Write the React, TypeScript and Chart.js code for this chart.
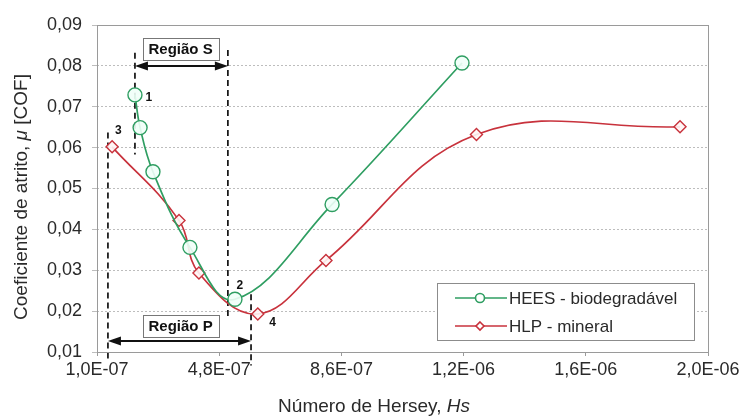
import React, { useEffect, useRef } from "react";
import { Chart, registerables } from "chart.js";

Chart.register(...registerables);

// ---- data ----
const heesX = [2.18e-7, 2.34e-7, 2.74e-7, 3.89e-7, 5.29e-7, 8.31e-7, 1.235e-6];
const heesY = [0.0729, 0.0649, 0.0541, 0.0356, 0.0229, 0.0461, 0.0807];
const hlpX = [1.47e-7, 3.55e-7, 4.17e-7, 6.0e-7, 8.12e-7, 1.28e-6, 1.913e-6];
const hlpY = [0.0602, 0.0422, 0.0293, 0.0193, 0.0324, 0.0632, 0.0651];

const seriesNames = ["HEES - biodegradável", "HLP - mineral"];
const xMin = 1.0e-7;
const xMax = 2.0e-6;
const xStep = 3.8e-7;
const yMin = 0.01;
const yMax = 0.09;
const yStep = 0.01;

// region annotations (data units)
const regionLabels = ["Região S", "Região P"];
const regionSLines = [
  { x: 2.18e-7, y1: 0.0832, y2: 0.0583 },
  { x: 5.07e-7, y1: 0.0839, y2: 0.0185 },
];
const regionSArrow = { x1: 2.18e-7, x2: 5.07e-7, y: 0.08 };
const regionSLabelPos = { x: 3.6e-7, y: 0.0842 };
const regionPLines = [
  { x: 1.34e-7, y1: 0.0637, y2: 0.0083 },
  { x: 5.79e-7, y1: 0.0241, y2: 0.0067 },
];
const regionPArrow = { x1: 1.34e-7, x2: 5.79e-7, y: 0.0127 };
const regionPLabelPos = { x: 3.6e-7, y: 0.0163 };
const pointTags = ["1", "2", "3", "4"];
const pointTagPos = [
  { x: 2.61e-7, y: 0.0722 },
  { x: 5.44e-7, y: 0.0262 },
  { x: 1.66e-7, y: 0.0641 },
  { x: 6.46e-7, y: 0.0172 },
];

const GREEN = "#2f9e62";
const RED = "#c8323c";
const FONT = "'Liberation Sans', Arial, sans-serif";
const TEXT = "#2a2a2a";

const fmtX = (v: number) => {
  const s = Number(v).toExponential(1).replace(".", ",");
  return s.replace(/e([+-])(\d+)$/, (_m, sg, d) => "E" + sg + (d.length < 2 ? "0" + d : d));
};
const fmtY = (v: number) => Number(v).toFixed(2).replace(".", ",");

const annotPlugin = {
  id: "annot",
  beforeDatasetsDraw(chart: any) {
    const ctx = chart.ctx;
    const xs = chart.scales.x;
    const ys = chart.scales.y;
    ctx.save();
    ctx.strokeStyle = "#111";
    ctx.lineWidth = 1.7;
    ctx.setLineDash([6, 4]);
    [...regionSLines, ...regionPLines].forEach((l) => {
      const x = xs.getPixelForValue(l.x);
      ctx.beginPath();
      ctx.moveTo(x, ys.getPixelForValue(l.y1));
      ctx.lineTo(x, ys.getPixelForValue(l.y2));
      ctx.stroke();
    });
    ctx.restore();
  },
  afterDraw(chart: any) {
    const ctx = chart.ctx;
    const xs = chart.scales.x;
    const ys = chart.scales.y;
    const ca = chart.chartArea;
    ctx.save();
    // frame
    ctx.strokeStyle = "#9a9a9a";
    ctx.lineWidth = 1;
    ctx.setLineDash([]);
    ctx.strokeRect(ca.left + 0.5, ca.top + 0.5, ca.right - ca.left, ca.bottom - ca.top);

    // arrows
    const arrow = (a: any) => {
      const x1 = xs.getPixelForValue(a.x1);
      const x2 = xs.getPixelForValue(a.x2);
      const y = ys.getPixelForValue(a.y);
      ctx.strokeStyle = "#111";
      ctx.fillStyle = "#111";
      ctx.lineWidth = 2;
      ctx.beginPath();
      ctx.moveTo(x1 + 8, y);
      ctx.lineTo(x2 - 8, y);
      ctx.stroke();
      ctx.beginPath();
      ctx.moveTo(x1, y);
      ctx.lineTo(x1 + 13, y - 4.5);
      ctx.lineTo(x1 + 13, y + 4.5);
      ctx.closePath();
      ctx.fill();
      ctx.beginPath();
      ctx.moveTo(x2, y);
      ctx.lineTo(x2 - 13, y - 4.5);
      ctx.lineTo(x2 - 13, y + 4.5);
      ctx.closePath();
      ctx.fill();
    };
    arrow(regionSArrow);
    arrow(regionPArrow);

    // region label boxes
    const box = (text: string, pos: any) => {
      const cx = xs.getPixelForValue(pos.x);
      const cy = ys.getPixelForValue(pos.y);
      ctx.font = "bold 15px " + FONT;
      const w = ctx.measureText(text).width + 12;
      const h = 22;
      ctx.fillStyle = "#fff";
      ctx.fillRect(cx - w / 2, cy - h / 2, w, h);
      ctx.strokeStyle = "#777";
      ctx.lineWidth = 1;
      ctx.strokeRect(Math.round(cx - w / 2) + 0.5, Math.round(cy - h / 2) + 0.5, Math.round(w), h);
      ctx.fillStyle = "#111";
      ctx.textAlign = "center";
      ctx.textBaseline = "middle";
      ctx.fillText(text, cx, cy + 1);
    };
    box(regionLabels[0], regionSLabelPos);
    box(regionLabels[1], regionPLabelPos);

    // point tags
    ctx.font = "bold 12px " + FONT;
    ctx.fillStyle = "#111";
    ctx.textAlign = "center";
    ctx.textBaseline = "middle";
    pointTags.forEach((t, i) => {
      ctx.fillText(t, xs.getPixelForValue(pointTagPos[i].x), ys.getPixelForValue(pointTagPos[i].y));
    });

    // legend
    const lx = 437, ly = 283, lw = 257, lh = 57;
    ctx.fillStyle = "#fff";
    ctx.fillRect(lx, ly, lw, lh);
    ctx.strokeStyle = "#8c8c8c";
    ctx.lineWidth = 1;
    ctx.strokeRect(lx + 0.5, ly + 0.5, lw, lh);
    const rows = [
      { y: 298, color: GREEN, shape: "circle" },
      { y: 326, color: RED, shape: "diamond" },
    ];
    rows.forEach((r, i) => {
      ctx.strokeStyle = r.color;
      ctx.lineWidth = 1.6;
      ctx.beginPath();
      ctx.moveTo(455, r.y);
      ctx.lineTo(507, r.y);
      ctx.stroke();
      ctx.fillStyle = "#fff";
      ctx.beginPath();
      if (r.shape === "circle") {
        ctx.arc(480, r.y, 4.5, 0, Math.PI * 2);
      } else {
        ctx.moveTo(480, r.y - 4);
        ctx.lineTo(484, r.y);
        ctx.lineTo(480, r.y + 4);
        ctx.lineTo(476, r.y);
        ctx.closePath();
      }
      ctx.fill();
      ctx.stroke();
      ctx.fillStyle = TEXT;
      ctx.font = "17px " + FONT;
      ctx.textAlign = "left";
      ctx.textBaseline = "middle";
      ctx.fillText(seriesNames[i], 509, r.y + 1);
    });

    // axis titles
    ctx.fillStyle = TEXT;
    ctx.textBaseline = "middle";
    const drawMixed = (parts: { t: string; it: boolean }[], cx: number, cy: number, size: number) => {
      let total = 0;
      const widths = parts.map((p) => {
        ctx.font = (p.it ? "italic " : "") + size + "px " + FONT;
        const w = ctx.measureText(p.t).width;
        total += w;
        return w;
      });
      let x = cx - total / 2;
      ctx.textAlign = "left";
      parts.forEach((p, i) => {
        ctx.font = (p.it ? "italic " : "") + size + "px " + FONT;
        ctx.fillText(p.t, x, cy);
        x += widths[i];
      });
    };
    drawMixed(
      [
        { t: "Número de Hersey, ", it: false },
        { t: "Hs", it: true },
      ],
      374,
      407,
      19
    );
    ctx.save();
    ctx.translate(22, 197);
    ctx.rotate(-Math.PI / 2);
    drawMixed(
      [
        { t: "Coeficiente de atrito, ", it: false },
        { t: "μ", it: true },
        { t: " [COF]", it: false },
      ],
      0,
      0,
      19
    );
    ctx.restore();
    ctx.restore();
  },
};

export default function App() {
  const ref = useRef<HTMLCanvasElement | null>(null);
  useEffect(() => {
    if (!ref.current) return;
    const chart = new Chart(ref.current, {
      type: "scatter",
      data: {
        datasets: [
          {
            label: seriesNames[0],
            data: heesX.map((x, i) => ({ x, y: heesY[i] })),
            showLine: true,
            borderColor: GREEN,
            borderWidth: 1.7,
            tension: 0.4,
            pointStyle: "circle",
            pointRadius: 7,
            pointBorderWidth: 1.4,
            pointBackgroundColor: "rgba(240,255,248,0.9)",
            pointBorderColor: GREEN,
          },
          {
            label: seriesNames[1],
            data: hlpX.map((x, i) => ({ x, y: hlpY[i] })),
            showLine: true,
            borderColor: RED,
            borderWidth: 1.7,
            tension: 0.4,
            pointStyle: "rectRot",
            pointRadius: 6,
            pointBorderWidth: 1.4,
            pointBackgroundColor: "rgba(255,245,245,0.9)",
            pointBorderColor: RED,
          },
        ],
      },
      options: {
        responsive: false,
        animation: false,
        events: [],
        layout: { padding: { left: 0, top: 25, right: 37, bottom: 0 } },
        plugins: {
          legend: { display: false },
          tooltip: { enabled: false },
          title: { display: false },
        },
        scales: {
          x: {
            type: "linear",
            min: xMin,
            max: xMax,
            afterFit: (s: any) => {
              s.height = 64;
            },
            ticks: {
              stepSize: xStep,
              callback: (v: any) => fmtX(v),
              font: { family: FONT, size: 18 },
              color: TEXT,
              padding: 3,
              maxRotation: 0,
              autoSkip: false,
            },
            grid: {
              drawOnChartArea: false,
              drawTicks: true,
              tickLength: 4,
              color: "#9a9a9a",
            },
            border: { display: false },
          },
          y: {
            type: "linear",
            min: yMin,
            max: yMax,
            afterFit: (s: any) => {
              s.width = 97;
            },
            ticks: {
              stepSize: yStep,
              callback: (v: any) => fmtY(v),
              font: { family: FONT, size: 18 },
              color: TEXT,
              padding: 10,
            },
            grid: {
              color: "#bdbdbd",
              lineWidth: 1,
              tickLength: 5,
            },
            border: { display: false, dash: [2, 2] },
          },
        },
      },
      plugins: [annotPlugin],
    } as any);
    return () => chart.destroy();
  }, []);
  return (
    <canvas
      ref={ref}
      width={745}
      height={416}
      style={{ position: "fixed", left: 0, top: 0, width: 745, height: 416, display: "block", background: "#fff" }}
    />
  );
}
